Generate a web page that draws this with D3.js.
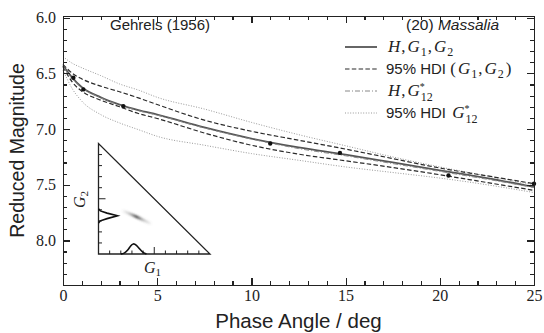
<!DOCTYPE html>
<html lang="en">
<head>
    <meta charset="UTF-8">
    <title>Massalia phase curve</title>
    <script src="https://d3js.org/d3.v7.min.js"></script>
    <style>
        body { margin: 0; background: #fff; }
        .axis path, .axis line { stroke: #222; stroke-width: 1.2px; shape-rendering: crispEdges; }
        .axis text { font-family: "Liberation Serif", serif; font-size: 16px; fill: #222; }
        .curve { fill: none; }
        .lbl { font-family: "Liberation Sans", sans-serif; fill: #222; }
        .math { font-family: "Liberation Serif", serif; font-style: italic; }
    </style>
</head>
<body>
<svg width="544" height="333"></svg>
<script>
    const angle = [0, 0.5, 1, 2, 3, 4, 5, 7.5, 10, 12.5, 15, 17.5, 20, 22.5, 25];

    // H, G1, G2 fit and its 95% HDI band
    const fitG1G2 = [6.43, 6.54, 6.625, 6.715, 6.78, 6.83, 6.87, 6.985, 7.085, 7.165, 7.23, 7.30, 7.37, 7.44, 7.52];
    const hdiG1G2Upper = [6.42, 6.50, 6.55, 6.615, 6.665, 6.72, 6.78, 6.92, 7.02, 7.10, 7.18, 7.265, 7.35, 7.42, 7.49];
    const hdiG1G2Lower = [6.44, 6.58, 6.66, 6.74, 6.80, 6.86, 6.905, 7.035, 7.145, 7.225, 7.285, 7.345, 7.41, 7.48, 7.55];

    // H, G12* fit and its 95% HDI band
    const fitG12 = [6.44, 6.55, 6.63, 6.72, 6.785, 6.835, 6.875, 6.99, 7.09, 7.175, 7.24, 7.31, 7.38, 7.45, 7.525];
    const hdiG12Upper = [6.35, 6.41, 6.45, 6.52, 6.595, 6.65, 6.715, 6.82, 6.94, 7.05, 7.15, 7.25, 7.34, 7.42, 7.50];
    const hdiG12Lower = [6.47, 6.64, 6.75, 6.87, 6.945, 7.005, 7.065, 7.145, 7.22, 7.28, 7.34, 7.39, 7.44, 7.50, 7.57];

    // Gehrels (1956) observations
    const obsAngle = [0.55, 1.08, 3.2, 11.0, 14.7, 20.46, 25.0];
    const obsMag = [6.54, 6.644, 6.794, 7.13, 7.214, 7.417, 7.49];

    // inset: marginal posteriors of G1 and G2 (relative density)
    const g1Grid = [0.20, 0.23, 0.26, 0.29, 0.31, 0.34, 0.37, 0.40, 0.43];
    const g1Density = [0, 0.05, 0.3, 0.8, 1, 0.85, 0.45, 0.12, 0];
    const g2Grid = [0.28, 0.30, 0.32, 0.346, 0.37, 0.39, 0.41];
    const g2Density = [0, 0.1, 0.45, 1, 0.45, 0.1, 0];
    // inset: joint posterior ridge
    const jointG1 = [0.21, 0.34, 0.48];
    const jointG2 = [0.395, 0.337, 0.27];

    const svg = d3.select("svg");
    const margin = {top: 16, right: 10, bottom: 48, left: 63};
    const width = 544 - margin.left - margin.right,
          height = 333 - margin.top - margin.bottom;

    const x = d3.scaleLinear().domain([0, 25]).range([0, width]);
    const y = d3.scaleLinear().domain([5.985, 8.4]).range([0, height]);

    const g = svg.append("g")
        .attr("transform", "translate(" + margin.left + "," + margin.top + ")");

    // curves
    function drawCurve(values, stroke, sw, dash) {
        const line = d3.line()
            .x((d, i) => x(angle[i]))
            .y(d => y(d))
            .curve(d3.curveMonotoneX);
        g.append("path")
            .attr("class", "curve")
            .attr("d", line(values))
            .attr("stroke", stroke)
            .attr("stroke-width", sw)
            .attr("stroke-dasharray", dash);
    }
    const styles = {
        fit: ["#555", 1.8, null],
        hdi: ["#2a2a2a", 1.2, "4.5,2.3"],
        fit12: ["#888", 1, "5,2,1,2"],
        hdi12: ["#999", 1, "1,1.6"]
    };
    drawCurve(hdiG12Upper, ...styles.hdi12);
    drawCurve(hdiG12Lower, ...styles.hdi12);
    drawCurve(hdiG1G2Upper, ...styles.hdi);
    drawCurve(hdiG1G2Lower, ...styles.hdi);
    drawCurve(fitG1G2, ...styles.fit);
    drawCurve(fitG12, ...styles.fit12);

    // observations
    g.selectAll(".obs")
        .data(obsAngle)
        .enter().append("circle")
        .attr("class", "obs")
        .attr("cx", d => x(d))
        .attr("cy", (d, i) => y(obsMag[i]))
        .attr("r", 2.2)
        .attr("fill", "#111");

    // axes: major + minor ticks on all four sides, pointing inward
    const xMinor = d3.range(0, 25.01, 1);
    const yMinor = d3.range(6.0, 8.41, 0.1);
    g.append("g").attr("class", "axis")
        .attr("transform", "translate(0," + height + ")")
        .call(d3.axisBottom(x).tickValues([0, 5, 10, 15, 20, 25]).tickSize(-7).tickPadding(5).tickFormat(d3.format("d")));
    g.append("g").attr("class", "axis")
        .attr("transform", "translate(0," + height + ")")
        .call(d3.axisBottom(x).tickValues(xMinor).tickSize(-4).tickFormat(""));
    g.append("g").attr("class", "axis")
        .call(d3.axisTop(x).tickValues([0, 5, 10, 15, 20, 25]).tickSize(-7).tickFormat(""));
    g.append("g").attr("class", "axis")
        .call(d3.axisTop(x).tickValues(xMinor).tickSize(-4).tickFormat(""));
    g.append("g").attr("class", "axis")
        .call(d3.axisLeft(y).tickValues([6.0, 6.5, 7.0, 7.5, 8.0]).tickSize(-7).tickPadding(7).tickFormat(d3.format(".1f")));
    g.append("g").attr("class", "axis")
        .call(d3.axisLeft(y).tickValues(yMinor).tickSize(-4).tickFormat(""));
    g.append("g").attr("class", "axis")
        .attr("transform", "translate(" + width + ",0)")
        .call(d3.axisRight(y).tickValues([6.0, 6.5, 7.0, 7.5, 8.0]).tickSize(-7).tickFormat(""));
    g.append("g").attr("class", "axis")
        .attr("transform", "translate(" + width + ",0)")
        .call(d3.axisRight(y).tickValues(yMinor).tickSize(-4).tickFormat(""));

    // axis titles
    svg.append("text").attr("class", "lbl")
        .attr("x", margin.left + width / 2).attr("y", 328)
        .attr("text-anchor", "middle").attr("font-size", 20.5)
        .text("Phase Angle / deg");
    svg.append("text").attr("class", "lbl")
        .attr("transform", "translate(24," + (margin.top + height / 2) + ") rotate(-90)")
        .attr("text-anchor", "middle").attr("font-size", 19.5)
        .text("Reduced Magnitude");

    // annotations
    svg.append("text").attr("class", "lbl")
        .attr("x", 110).attr("y", 30).attr("font-size", 15)
        .text("Gehrels (1956)");
    const title = svg.append("text").attr("class", "lbl")
        .attr("x", 406).attr("y", 30).attr("font-size", 15.5);
    title.append("tspan").text("(20) ");
    title.append("tspan").attr("font-style", "italic").text("Massalia");

    // legend; parts: [text, kind] with kind 0 upright math, 1 italic math, 2 subscript, 3 sans text, 4 stacked sup/sub
    const legend = svg.append("g").attr("transform", "translate(345,0)");
    const rows = [
        {y: 47, st: styles.fit, parts: [["H", 1], [",", 0], ["G", 1], ["1", 2], [",", 0], ["G", 1], ["2", 2]]},
        {y: 69, st: styles.hdi, parts: [["95% HDI ", 3], ["(", 0], ["G", 1], ["1", 2], [",", 0], ["G", 1], ["2", 2], [")", 0]]},
        {y: 91, st: styles.fit12, parts: [["H", 1], [",", 0], ["G", 1], ["12", 4]]},
        {y: 113, st: styles.hdi12, parts: [["95% HDI ", 3], ["G", 1], ["12", 4]]}
    ];
    rows.forEach(r => {
        legend.append("line")
            .attr("x1", 0).attr("x2", 32).attr("y1", r.y).attr("y2", r.y)
            .attr("stroke", r.st[0]).attr("stroke-width", r.st[1])
            .attr("stroke-dasharray", r.st[2]);
        const t = legend.append("text").attr("x", 41).attr("y", r.y + 5)
            .attr("font-family", "Liberation Serif").attr("font-size", 17).attr("fill", "#222");
        let shift = 0;
        r.parts.forEach(p => {
            const s = t.append("tspan").text(p[0]);
            if (p[1] === 1) s.attr("font-style", "italic").attr("dx", 2);
            if (p[1] === 2) { s.attr("font-size", 12).attr("dx", 1).attr("dy", 4 - shift); shift = 4; return; }
            if (p[1] === 3) s.attr("font-family", "Liberation Sans").attr("font-size", 15);
            if (p[1] === 4) {
                s.attr("font-size", 12).attr("dx", 1).attr("dy", 5 - shift);
                t.append("tspan").text("*").attr("font-size", 10).attr("dx", -13).attr("dy", -11);
                shift = -6;
                return;
            }
            if (p[0] === ",") s.attr("dx", 1);
            if (p[0] === ")") s.attr("dx", 2);
            if (shift !== 0) { s.attr("dy", -shift); shift = 0; }
        });
    });

    // inset: (G1, G2) triangle
    const gx = d3.scaleLinear().domain([0, 1]).range([98.5, 210]);
    const gy = d3.scaleLinear().domain([0, 1]).range([254, 143.5]);
    const inset = svg.append("g");

    const defs = svg.append("defs");
    defs.append("filter").attr("id", "blur")
        .append("feGaussianBlur").attr("stdDeviation", 0.8);
    const grad = defs.append("linearGradient").attr("id", "ridge")
        .attr("gradientUnits", "userSpaceOnUse")
        .attr("x1", gx(jointG1[0])).attr("y1", gy(jointG2[0]))
        .attr("x2", gx(jointG1[2])).attr("y2", gy(jointG2[2]));
    grad.append("stop").attr("offset", 0).attr("stop-color", "#555").attr("stop-opacity", 0);
    grad.append("stop").attr("offset", 0.2).attr("stop-color", "#666").attr("stop-opacity", 0.35);
    grad.append("stop").attr("offset", 0.48).attr("stop-color", "#222").attr("stop-opacity", 1);
    grad.append("stop").attr("offset", 0.75).attr("stop-color", "#666").attr("stop-opacity", 0.4);
    grad.append("stop").attr("offset", 1).attr("stop-color", "#555").attr("stop-opacity", 0);
    inset.append("path")
        .attr("d", d3.line().x((d, i) => gx(jointG1[i])).y(d => gy(d))(jointG2))
        .attr("stroke", "url(#ridge)").attr("stroke-width", 2.2).attr("fill", "none")
        .attr("stroke-linecap", "round").attr("filter", "url(#blur)");

    const triangle = [[0, 1], [0, 0], [1, 0]];
    inset.append("path")
        .attr("d", d3.line().x(d => gx(d[0])).y(d => gy(d[1]))(triangle) + "Z")
        .attr("fill", "none").attr("stroke", "#222").attr("stroke-width", 1.3);

    const insetTicks = d3.range(1, 10).map(k => k / 10);
    inset.selectAll(".tb").data(insetTicks).enter().append("line")
        .attr("x1", d => gx(d)).attr("x2", d => gx(d))
        .attr("y1", gy(0)).attr("y2", d => gy(0) - (d === 0.5 ? 7 : 3.5))
        .attr("stroke", "#222").attr("stroke-width", 1);
    inset.selectAll(".tl").data(insetTicks).enter().append("line")
        .attr("y1", d => gy(d)).attr("y2", d => gy(d))
        .attr("x1", gx(0)).attr("x2", d => gx(0) + (d === 0.5 ? 7 : 3.5))
        .attr("stroke", "#222").attr("stroke-width", 1);

    const g1Scale = d3.scaleLinear().domain([0, 1]).range([0, 10.7]);
    const g2Scale = d3.scaleLinear().domain([0, 1]).range([0, 19]);
    inset.append("path")
        .attr("d", d3.line().x((d, i) => gx(g1Grid[i])).y(d => gy(0) - g1Scale(d)).curve(d3.curveBasis)(g1Density))
        .attr("fill", "none").attr("stroke", "#111").attr("stroke-width", 1.6);
    inset.append("path")
        .attr("d", d3.line().y((d, i) => gy(g2Grid[i])).x(d => gx(0) + g2Scale(d)).curve(d3.curveLinear)(g2Density))
        .attr("fill", "none").attr("stroke", "#111").attr("stroke-width", 1.6);

    inset.append("text").attr("class", "math")
        .attr("x", 144).attr("y", 273).attr("font-size", 16).attr("fill", "#222")
        .call(t => { t.append("tspan").text("G"); t.append("tspan").attr("font-size", 11).attr("font-style", "normal").attr("dy", 3).text("1"); });
    inset.append("text").attr("class", "math")
        .attr("transform", "translate(85,208) rotate(-90)").attr("font-size", 16).attr("fill", "#222")
        .call(t => { t.append("tspan").text("G"); t.append("tspan").attr("font-size", 11).attr("font-style", "normal").attr("dy", 3).text("2"); });
</script>
</body>
</html>
